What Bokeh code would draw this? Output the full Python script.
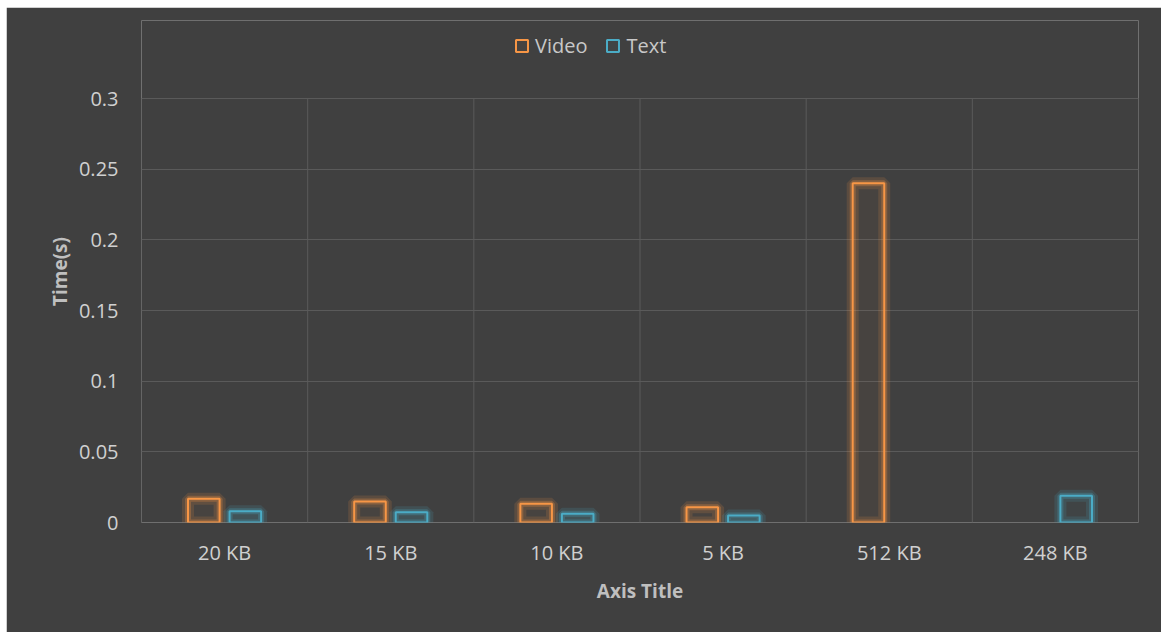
import math
from bokeh.plotting import figure
from bokeh.models import FixedTicker, Legend, LegendItem, ColumnDataSource
from bokeh.embed import file_html
from bokeh.resources import INLINE

categories = ["20 KB", "15 KB", "10 KB", "5 KB", "512 KB", "248 KB"]
video = [0.0168, 0.0149, 0.0132, 0.0108, 0.240, float("nan")]
text = [0.0080, 0.0073, 0.0062, 0.0050, float("nan"), 0.0190]
y_ticks = [0, 0.05, 0.1, 0.15, 0.2, 0.25, 0.3]
y_tick_labels = ["0", "0.05", "0.1", "0.15", "0.2", "0.25", "0.3"]
series_names = ["Video", "Text"]
colors = ["#F79646", "#4BACC6"]

BG = "#404040"
centers = [i + 0.5 for i in range(len(categories))]
bounds = [i for i in range(len(categories) + 1)]

# frame extends upward to hold the legend; plot area ends at y_max
y_min, y_max = y_ticks[0], y_ticks[-1]
plot_h_px = 424
frame_h_px = 502
y_top = y_max * frame_h_px / plot_h_px

src = ColumnDataSource(dict(
    xv=[c - 0.125 for c in centers],
    xt=[c + 0.125 for c in centers],
    video=video,
    text=text,
))

p = figure(width=1155, height=625, x_range=(0, len(categories)), y_range=(0, y_top),
           output_backend="svg", toolbar_location=None,
           background_fill_color=BG, border_fill_color=BG,
           outline_line_color=BG, outline_line_alpha=0,
           min_border_left=135, min_border_right=23, min_border_top=13, min_border_bottom=110)
p.margin = (7, 0, 0, 6)
p.outline_line_color = None

grid_color = "#5a5a5a"
p.xgrid.visible = False
p.ygrid.ticker = FixedTicker(ticks=y_ticks)
p.ygrid.grid_line_color = grid_color
# vertical category separators, limited to the plot area
p.segment(x0=bounds, x1=bounds, y0=[y_min] * len(bounds), y1=[y_max] * len(bounds),
          line_color=grid_color, line_width=1, level="underlay")

# glow
for x, y, c in [("xv", "video", colors[0]), ("xt", "text", colors[1])]:
    p.vbar(x=x, top=y, bottom=0, width=0.19, source=src, fill_color=None,
           line_color=c, line_alpha=0.15, line_width=12)
    p.vbar(x=x, top=y, bottom=0, width=0.19, source=src, fill_color=None,
           line_color=c, line_alpha=0.28, line_width=6)

r_v = p.vbar(x="xv", top="video", bottom=0, width=0.19, source=src,
             fill_color=colors[0], fill_alpha=0.04, line_color=colors[0], line_width=2)
r_t = p.vbar(x="xt", top="text", bottom=0, width=0.19, source=src,
             fill_color=colors[1], fill_alpha=0.04, line_color=colors[1], line_width=2)

font = "Open Sans"
p.xaxis.ticker = FixedTicker(ticks=centers)
p.xaxis.major_label_overrides = {c: lab for c, lab in zip(centers, categories)}
p.yaxis.ticker = FixedTicker(ticks=y_ticks)
p.yaxis.major_label_overrides = {t: lab for t, lab in zip(y_ticks, y_tick_labels)}
for ax in (p.xaxis, p.yaxis):
    ax.axis_line_color = None
    ax.major_tick_line_color = None
    ax.minor_tick_line_color = None
    ax.major_label_text_font = font
    ax.major_label_text_font_size = "20px"
    ax.major_label_text_color = "#d0d0d0"
    ax.axis_label_text_font = font
    ax.axis_label_text_font_size = "19px"
    ax.axis_label_text_font_style = "bold"
    ax.axis_label_text_color = "#bfbfbf"
p.xaxis.axis_label = "Axis Title"
p.yaxis.axis_label = "Time(s)"
p.xaxis.major_label_standoff = 10
p.xaxis.axis_label_standoff = 9
p.yaxis.major_label_standoff = 17
p.yaxis.axis_label_standoff = 3

legend = Legend(items=[LegendItem(label=series_names[0], renderers=[r_v]),
                       LegendItem(label=series_names[1], renderers=[r_t])],
                location=(373, 463), orientation="horizontal",
                background_fill_alpha=0, border_line_color=None,
                padding=0, margin=0, spacing=18, label_standoff=6,
                glyph_width=15, glyph_height=15, label_height=20,
                label_text_font=font, label_text_font_size="20px",
                label_text_color="#c8c8c8")
p.add_layout(legend, "center")

open("out.html", "w").write(file_html(p, INLINE))
